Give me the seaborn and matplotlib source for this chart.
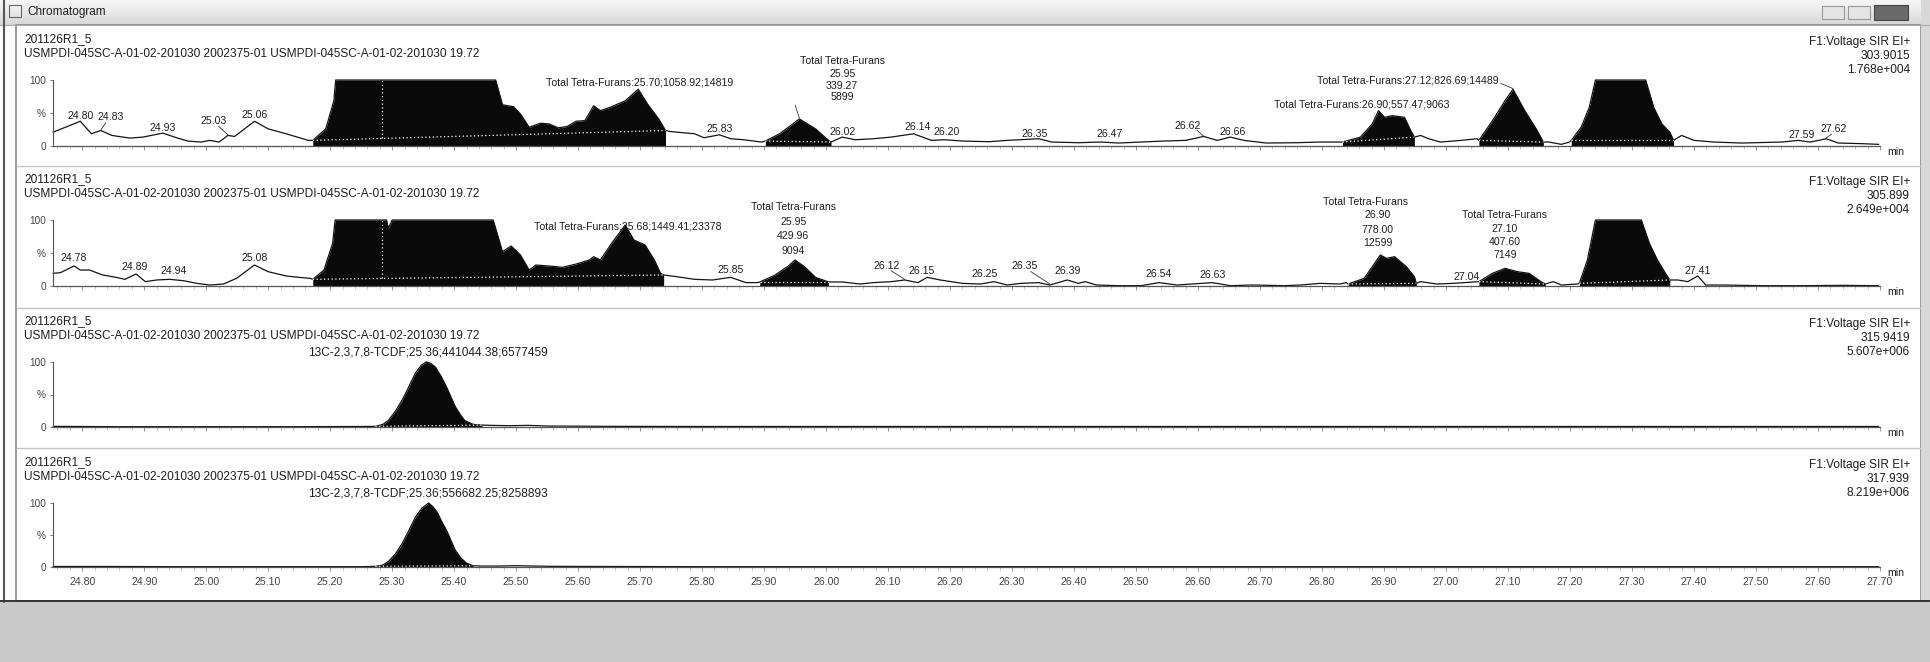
import numpy as np
import pandas as pd
import seaborn as sns
import matplotlib.pyplot as plt
from matplotlib.patches import Rectangle

W, H = 1930, 662

# ---- traces: retention time (min) and relative intensity (%) ----
p1_time = [24.753, 24.776, 24.797, 24.815, 24.830, 24.848, 24.877, 24.898, 24.930, 24.949,
           24.970, 24.992, 25.006, 25.021, 25.035, 25.046, 25.078, 25.100, 25.129, 25.165,
           25.172, 25.193, 25.206, 25.209, 25.467, 25.478, 25.496, 25.507, 25.521, 25.539,
           25.553, 25.568, 25.582, 25.597, 25.611, 25.625, 25.636, 25.654, 25.676, 25.697,
           25.712, 25.730, 25.741, 25.748, 25.777, 25.788, 25.803, 25.828, 25.846, 25.867,
           25.896, 25.902, 25.925, 25.957, 25.983, 26.004, 26.008, 26.026, 26.047, 26.076,
           26.105, 26.141, 26.170, 26.191, 26.220, 26.263, 26.292, 26.343, 26.364, 26.407,
           26.443, 26.472, 26.508, 26.544, 26.580, 26.609, 26.631, 26.652, 26.674, 26.710,
           26.760, 26.796, 26.829, 26.833, 26.862, 26.881, 26.891, 26.901, 26.913, 26.933,
           26.943, 26.949, 26.959, 26.972, 26.991, 27.024, 27.050, 27.053, 27.075, 27.095,
           27.108, 27.127, 27.147, 27.157, 27.166, 27.186, 27.199, 27.202, 27.218, 27.231,
           27.241, 27.322, 27.335, 27.348, 27.361, 27.367, 27.380, 27.400, 27.432, 27.477,
           27.542, 27.568, 27.587, 27.601, 27.613, 27.633, 27.672, 27.698]
p1_int = [21, 29.5, 37.5, 18.5, 23.5, 16, 12, 13.5, 19.5, 13.5,
          7.5, 6, 8.5, 6, 16, 14.5, 37.5, 26, 18.5, 8.5,
          8.5, 26, 68.5, 100, 100, 62.5, 59.5, 48.5, 28.5, 34.5,
          33.5, 27.5, 29.5, 37.5, 38.5, 61, 53.5, 59.5, 68.5, 86,
          63.5, 41, 23.5, 22, 19.5, 18.5, 12.5, 17, 11, 9.5,
          6, 7.5, 18.5, 41, 26, 8.5, 6, 13.5, 9.5, 11,
          13.5, 18.5, 8.5, 9.5, 7.5, 6.5, 8.5, 11, 6, 5,
          6, 4.5, 6, 7.5, 8.5, 14.5, 8.5, 13.5, 8.5, 4.5,
          5, 6, 6, 6, 13.5, 33.5, 53.5, 43.5, 46, 43.5,
          23.5, 13.5, 16, 11, 6, 8.5, 11, 8.5, 38.5, 68.5,
          86, 53.5, 23.5, 6, 6, 2.5, 6, 8.5, 28.5, 58.5,
          100, 100, 58.5, 33.5, 21, 8.5, 16, 8.5, 6, 4.5,
          6, 8.5, 6, 8.5, 11, 4.5, 3.5, 2.5]

p2_time = [24.753, 24.765, 24.787, 24.797, 24.812, 24.833, 24.855, 24.869, 24.887, 24.902,
           24.920, 24.941, 24.963, 24.985, 25.006, 25.028, 25.049, 25.078, 25.100, 25.129,
           25.150, 25.168, 25.172, 25.190, 25.204, 25.208, 25.291, 25.294, 25.300, 25.463,
           25.478, 25.492, 25.507, 25.521, 25.532, 25.553, 25.575, 25.597, 25.618, 25.625,
           25.636, 25.654, 25.676, 25.690, 25.708, 25.723, 25.733, 25.738, 25.759, 25.788,
           25.817, 25.846, 25.871, 25.889, 25.893, 25.918, 25.939, 25.950, 25.965, 25.983,
           26.004, 26.026, 26.055, 26.076, 26.105, 26.127, 26.148, 26.163, 26.184, 26.220,
           26.249, 26.271, 26.292, 26.314, 26.343, 26.361, 26.389, 26.407, 26.418, 26.436,
           26.472, 26.508, 26.537, 26.566, 26.623, 26.652, 26.688, 26.739, 26.765, 26.797,
           26.829, 26.839, 26.842, 26.868, 26.894, 26.904, 26.917, 26.936, 26.949, 26.952,
           26.959, 26.985, 27.011, 27.030, 27.053, 27.075, 27.095, 27.115, 27.134, 27.153,
           27.160, 27.173, 27.186, 27.212, 27.215, 27.228, 27.241, 27.315, 27.328, 27.341,
           27.354, 27.361, 27.374, 27.390, 27.406, 27.419, 27.445, 27.510, 27.575, 27.639,
           27.698]
p2_int = [19.2, 20.2, 30.3, 24.2, 24.2, 16.7, 13.1, 10.1, 18.2, 6.6,
          9.1, 10.1, 8.1, 4.0, 1.5, 3.0, 11.6, 31.8, 21.7, 15.2,
          13.1, 11.6, 10.1, 24.2, 64.6, 100, 100, 87.4, 100, 100,
          52, 60.6, 47, 24.2, 31.8, 30.3, 28.3, 33.3, 39.4, 44.4,
          39.4, 64.6, 92.4, 69.7, 62.1, 39.4, 19.2, 16.7, 14.1, 10.1,
          9.1, 13.1, 5.1, 5.1, 6.1, 16.7, 30.3, 39.4, 29.3, 13.1,
          6.1, 6.1, 3.0, 5.1, 6.6, 9.1, 5.1, 13.1, 9.1, 4.0,
          3.0, 6.6, 1.5, 4.0, 5.1, 1.5, 9.1, 4.0, 6.6, 1.5,
          0.5, 0.5, 5.1, 1.5, 5.1, 0.5, 1.5, 0.5, 1.5, 4.0,
          3.0, 5.1, 3.0, 11.6, 47, 41.9, 44.4, 29.3, 14.1, 4.0,
          6.6, 3.0, 4.0, 5.1, 6.6, 19.2, 26.8, 21.7, 19.2, 6.6,
          3.0, 6.6, 1.5, 3.0, 4.0, 39.4, 100, 100, 64.6, 39.4,
          19.2, 9.1, 9.1, 6.6, 15.2, 1.5, 1.5, 0.5, 0.5, 1.0,
          0.5]

p3_time = [24.753, 24.85, 24.95, 25.05, 25.15, 25.25, 25.273, 25.285, 25.294, 25.305,
           25.316, 25.327, 25.337, 25.347, 25.355, 25.362, 25.370, 25.379, 25.388, 25.395,
           25.402, 25.410, 25.417, 25.431, 25.445, 25.46, 25.49, 25.52, 25.55, 25.65,
           25.8, 26.0, 26.2, 26.4, 26.6, 26.8, 27.0, 27.2, 27.4, 27.6, 27.698]
p3_int = [1.0, 0.5, 0.5, 0.5, 0.5, 0.8, 1.0, 4, 10, 24,
          41, 62, 82, 95, 100, 98, 92, 78, 61, 46,
          31, 19, 10, 4, 3, 2.5, 2, 2.5, 1.5, 1,
          0.8, 0.8, 0.8, 0.8, 0.8, 0.8, 0.8, 0.8, 0.8, 0.8, 0.8]

p4_time = [24.753, 24.85, 24.95, 25.05, 25.15, 25.25, 25.273, 25.285, 25.294, 25.305,
           25.316, 25.327, 25.337, 25.348, 25.359, 25.366, 25.373, 25.380, 25.388, 25.395,
           25.402, 25.411, 25.420, 25.431, 25.445, 25.47, 25.50, 25.53, 25.56, 25.65,
           25.8, 26.0, 26.2, 26.4, 26.6, 26.8, 27.0, 27.2, 27.4, 27.6, 27.698]
p4_int = [0.8, 0.8, 0.5, 0.5, 0.5, 0.5, 1.0, 3, 8.6, 20,
          36.5, 57, 77, 92, 100, 94, 85, 71, 57, 41,
          26, 14, 6, 2, 1.5, 1.5, 2, 1.5, 1, 0.8,
          0.5, 0.5, 0.5, 0.5, 0.5, 0.5, 0.5, 0.5, 0.5, 0.5, 0.5]

# integrated peak windows (start, end) in min
p1_peaks = [(25.172, 25.741), (25.902, 26.008), (26.833, 26.949), (27.053, 27.157), (27.202, 27.367)]
p2_peaks = [(25.172, 25.738), (25.893, 26.004), (26.842, 26.952), (27.053, 27.160), (27.215, 27.361)]
p3_peaks = [(25.273, 25.445)]
p4_peaks = [(25.273, 25.431)]
p1_splits = [25.283]
p2_splits = [25.283]

# peak labels: (text, time, height %, alignment)
p1_labels = [("24.80", 24.797, 46, "center"), ("24.83", 24.846, 43.5, "center"),
             ("24.93", 24.930, 27.5, "center"), ("25.03", 25.012, 38.5, "center"),
             ("25.06", 25.078, 47, "center"),
             ("Total Tetra-Furans:25.70;1058.92;14819", 25.700, 96, "center"),
             ("25.83", 25.828, 26, "center"),
             ("Total Tetra-Furans", 26.026, 128.5, "center"), ("25.95", 26.026, 108.5, "center"),
             ("339.27", 26.026, 91, "center"), ("5899", 26.026, 73.5, "center"),
             ("26.02", 26.026, 21, "center"), ("26.14", 26.148, 28.5, "center"),
             ("26.20", 26.195, 21, "center"), ("26.35", 26.336, 18.5, "center"),
             ("26.47", 26.458, 18.5, "center"), ("26.62", 26.584, 31, "center"),
             ("26.66", 26.656, 21, "center"),
             ("Total Tetra-Furans:27.12;826.69;14489", 27.085, 98.5, "right"),
             ("Total Tetra-Furans:26.90;557.47;9063", 27.005, 63.5, "right"),
             ("27.59", 27.574, 16, "center"), ("27.62", 27.626, 26, "center")]
p2_labels = [("24.78", 24.787, 42, "center"), ("24.89", 24.884, 29, "center"),
             ("24.94", 24.948, 22, "center"), ("25.08", 25.078, 42, "center"),
             ("Total Tetra-Furans:25.68;1449.41;23378", 25.680, 90, "center"),
             ("Total Tetra-Furans", 25.947, 120, "center"), ("25.95", 25.947, 97.5, "center"),
             ("429.96", 25.947, 76, "center"), ("9094", 25.947, 53.5, "center"),
             ("25.85", 25.846, 24, "center"), ("26.12", 26.098, 30, "center"),
             ("26.15", 26.155, 23, "center"), ("26.25", 26.256, 18, "center"),
             ("26.35", 26.321, 30, "center"), ("26.39", 26.389, 23, "center"),
             ("26.54", 26.537, 18, "center"), ("26.63", 26.623, 17, "center"),
             ("Total Tetra-Furans", 26.870, 128, "center"), ("26.90", 26.890, 107.6, "center"),
             ("778.00", 26.890, 85, "center"), ("12599", 26.890, 64.6, "center"),
             ("Total Tetra-Furans", 27.095, 107.6, "center"), ("27.10", 27.095, 87, "center"),
             ("407.60", 27.095, 67, "center"), ("7149", 27.095, 47, "center"),
             ("27.04", 27.033, 14, "center"), ("27.41", 27.406, 22, "center")]
p3_labels = [("13C-2,3,7,8-TCDF;25.36;441044.38;6577459", 25.357, 114, "center")]
p4_labels = [("13C-2,3,7,8-TCDF;25.36;556682.25;8258893", 25.357, 115, "center")]

# leader lines from label to peak: (t0, y0, t1, y1)
p1_leaders = [(24.838, 35, 24.830, 24), (25.020, 30, 25.035, 17), (25.950, 62, 25.957, 42),
              (26.598, 24, 26.609, 15), (27.622, 18, 27.613, 12), (27.088, 95, 27.108, 87)]
p2_leaders = [(26.105, 23, 26.127, 10), (26.330, 22, 26.361, 3)]

sample_id = "201126R1_5"
sample_desc = "USMPDI-045SC-A-01-02-201030 2002375-01 USMPDI-045SC-A-01-02-201030 19.72"
function_name = "F1:Voltage SIR EI+"
channel_mass = ["303.9015", "305.899", "315.9419", "317.939"]
channel_max = ["1.768e+004", "2.649e+004", "5.607e+006", "8.219e+006"]

x_ticks = [24.80, 24.90, 25.00, 25.10, 25.20, 25.30, 25.40, 25.50, 25.60, 25.70,
           25.80, 25.90, 26.00, 26.10, 26.20, 26.30, 26.40, 26.50, 26.60, 26.70,
           26.80, 26.90, 27.00, 27.10, 27.20, 27.30, 27.40, 27.50, 27.60, 27.70]
x_tick_labels = [f"{v:.2f}" for v in x_ticks]

panels = [
    (p1_time, p1_int, p1_peaks, p1_splits, p1_labels, p1_leaders),
    (p2_time, p2_int, p2_peaks, p2_splits, p2_labels, p2_leaders),
    (p3_time, p3_int, p3_peaks, [], p3_labels, []),
    (p4_time, p4_int, p4_peaks, [], p4_labels, []),
]

# ---- layout (pixels of the 1930x662 screenshot) ----
panel_top = [80, 220, 362, 503]
panel_bot = [146, 286, 427, 567]
ax_x0, ax_x1 = 53, 1880
txt = "#1e1e1e"
fs_head = 8.6
fs_peak = 7.6

sns.set_theme(style="white")
plt.rcParams['font.family'] = ['Liberation Sans', 'DejaVu Sans']


def rect(x0, y0, x1, y1):
    return [x0 / W, 1 - y1 / H, (x1 - x0) / W, (y1 - y0) / H]


fig = plt.figure(figsize=(W / 100, H / 100), dpi=100)
fig.patch.set_facecolor("white")

# window chrome drawn in pixel space
bg = fig.add_axes([0, 0, 1, 1], zorder=-5)
bg.set_xlim(0, W)
bg.set_ylim(H, 0)
bg.axis("off")
grad = np.linspace(0.08, 0.26, 25).reshape(-1, 1)
bg.imshow(grad, extent=(0, W, 25, 0), cmap="Greys", vmin=0, vmax=1, aspect="auto")
bg.add_patch(Rectangle((9, 5), 12, 12, fill=False, ec="#666", lw=0.8))
bg.text(27, 12, "Chromatogram", fontsize=8.5, va="center", color=txt)
bg.add_patch(Rectangle((1822, 6), 22, 13, fc="#e4e4e4", ec="#999", lw=0.8))
bg.add_patch(Rectangle((1848, 6), 22, 13, fc="#e4e4e4", ec="#999", lw=0.8))
bg.add_patch(Rectangle((1874, 5), 34, 15, fc="#6a6a6a", ec="#444", lw=0.8))
bg.plot([0, W], [25, 25], color="#aaaaaa", lw=0.8)
bg.add_patch(Rectangle((16, 25), 1905, 576, fill=False, ec="#8a8a8a", lw=1.2))
bg.plot([4, 4], [0, 602], color="#555555", lw=1.5)
bg.add_patch(Rectangle((1921, 0), 9, 602, fc="#d8d8d8", ec="none"))
for ys in [166, 308, 448]:
    bg.plot([17, 1920], [ys, ys], color="#c4c4c4", lw=1.0)
bg.add_patch(Rectangle((0, 602), W, H - 602, fc="#c9c9c9", ec="none"))
bg.plot([0, W], [601, 601], color="#333333", lw=1.4)

for i, (t, v, peaks, splits, labels, leaders) in enumerate(panels):
    ax = fig.add_axes(rect(ax_x0, panel_top[i], ax_x1, panel_bot[i]))
    ax.set_facecolor("none")
    t = np.array(t)
    v = np.array(v)
    df = pd.DataFrame({"time": t, "intensity": v})
    sns.lineplot(data=df, x="time", y="intensity", ax=ax, color="#141414",
                 linewidth=0.9, estimator=None, sort=False)
    for line in ax.lines:
        line.set_clip_on(False)

    for a, b in peaks:
        mask = (t >= a - 1e-9) & (t <= b + 1e-9)
        ax.fill_between(t, 0, v, where=mask, color="#0a0a0a", lw=0)
        ia = np.where(mask)[0][0]
        ib = np.where(mask)[0][-1]
        ax.plot([t[ia], t[ib]], [v[ia], v[ib]], color="white", lw=0.9, ls=(0, (1, 2)))
        for s in splits:
            if a < s < b:
                base = v[ia] + (v[ib] - v[ia]) * (s - t[ia]) / (t[ib] - t[ia])
                ax.plot([s, s], [base, 100], color="white", lw=0.9, ls=(0, (1, 2)))

    for text, x, y, ha in labels:
        size = fs_head if text.startswith("13C") else fs_peak
        ax.text(x, y, text, ha=ha, va="center", fontsize=size, color=txt, clip_on=False)
    for x0, y0, x1, y1 in leaders:
        ax.plot([x0, x1], [y0, y1], color="#333333", lw=0.6, clip_on=False)

    ax.set_xlim(24.753, 27.70)
    ax.set_ylim(0, 100)
    ax.set_xlabel("")
    ax.set_ylabel("")
    ax.set_yticks([0, 50, 100])
    ax.set_yticklabels(["0", "%", "100"], fontsize=7.2, color="#444444")
    ax.set_xticks(x_ticks)
    ax.set_xticks(np.arange(24.76, 27.70, 0.02), minor=True)
    if i == 3:
        ax.set_xticklabels(x_tick_labels, fontsize=7.6, color="#444444")
    else:
        ax.set_xticklabels([])
    ax.tick_params(axis="x", which="major", direction="out", length=3, width=0.6,
                   color="#888888", pad=4, bottom=True)
    ax.tick_params(axis="x", which="minor", direction="out", length=1.8, width=0.5,
                   color="#aaaaaa", bottom=True)
    ax.tick_params(axis="y", direction="out", length=2, width=0.6, color="#666666", pad=3, left=True)
    for side in ["top", "right"]:
        ax.spines[side].set_visible(False)
    ax.spines["left"].set_color("#555555")
    ax.spines["left"].set_linewidth(0.8)
    ax.spines["bottom"].set_color("#555555")
    ax.spines["bottom"].set_linewidth(0.9)
    ax.text(1.004, -0.02, "min", transform=ax.transAxes, ha="left", va="top",
            fontsize=fs_peak, color=txt)

    top = panel_top[i]
    fig.text(24 / W, 1 - (top - 41) / H, sample_id, ha="left", va="center", fontsize=fs_head, color=txt)
    fig.text(24 / W, 1 - (top - 26) / H, sample_desc, ha="left", va="center", fontsize=fs_head, color=txt)
    fig.text(1910 / W, 1 - (top - 38) / H, function_name, ha="right", va="center", fontsize=fs_head, color=txt)
    fig.text(1910 / W, 1 - (top - 24) / H, channel_mass[i], ha="right", va="center", fontsize=fs_head, color=txt)
    fig.text(1910 / W, 1 - (top - 10) / H, channel_max[i], ha="right", va="center", fontsize=fs_head, color=txt)

fig.savefig("out.png", dpi=100)
